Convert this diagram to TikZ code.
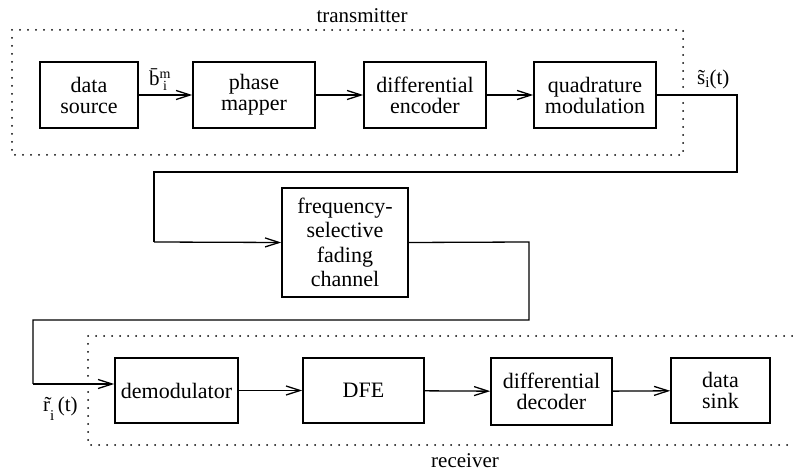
\documentclass[tikz,border=0pt]{standalone}
\usepackage{fontspec}
\setmainfont{Liberation Serif}
\usetikzlibrary{arrows.meta}
\tikzset{
  blk/.style={draw, line width=1.6pt, inner sep=0pt, align=center,
    minimum height=66pt, font=\fontsize{22}{21}\selectfont},
  conn/.style={line width=1.3pt},
  arr/.style={conn, -{Straight Barb[length=14pt,width=9pt,line width=1.3pt]}},
  dotline/.style={line width=2pt, line cap=round, dash pattern=on 0pt off 8pt},
  lbl/.style={inner sep=0pt, font=\fontsize{21}{21}\selectfont},
}
\begin{document}
\begin{tikzpicture}[x=1pt,y=-1pt]
\useasboundingbox (0,0) rectangle (793,470);
% transmitter frame
\draw[dotline] (12,30) rectangle (683,155);
\node[lbl, anchor=base] (tx) at (362,23) {transmitter};
% top row
\node[blk, minimum width=98pt] (ds) at (89,95) {data\\source};
\node[blk, minimum width=122pt] (pm) at (254,95) {phase\\mapper};
\node[blk, minimum width=122pt] (de) at (425,95) {differential\\encoder};
\node[blk, minimum width=122pt] (qm) at (595,95) {quadrature\\modulation};
\draw[arr] (ds) -- (pm);
\draw[arr] (pm) -- (de);
\draw[arr] (de) -- (qm);
\node[lbl, anchor=base west] (bl) at (149,86) {\=b\raisebox{-5pt}{\fontsize{14}{12}\selectfont\shortstack{m\\i}}};
\node[lbl, anchor=base west] (sl) at (697,85) {\~s\raisebox{-3pt}{\fontsize{15}{15}\selectfont i}(t)};
% channel
\node[blk, minimum width=126pt, minimum height=109pt, font=\fontsize{22}{24.3}\selectfont] (ch) at (345,242.5) {frequency-\\selective\\fading\\channel};
\coordinate (c1) at (737,95);
\coordinate (c2) at (737,172);
\coordinate (c3) at (154,172);
\coordinate (c4) at (154,242);
\draw[conn] (qm.east) -- (c1) -- (c2) -- (c3) -- (c4);
\draw[arr] (c4) -- (ch.west);
\coordinate (d1) at (529,242);
\coordinate (d2) at (529,320);
\coordinate (d3) at (33,320);
\coordinate (d4) at (33,384);
% receiver frame
\draw[dotline] (800,336) -- (88,336) -- (88,445) -- (800,445);
\node[lbl, anchor=base] (rx) at (465,467) {receiver};
% bottom row
\node[blk, minimum width=123pt, minimum height=65pt] (dm) at (176.5,390.5) {\raisebox{-5pt}{demodulator}};
\node[blk, minimum width=121pt, minimum height=65pt] (dfe) at (363.5,390.5) {\raisebox{-5pt}{DFE}};
\node[blk, minimum width=121pt, minimum height=67pt] (dd) at (551.5,391.5) {differential\\decoder};
\node[blk, minimum width=99pt, minimum height=65pt] (dk) at (720.5,390.5) {data\\sink};
\draw[conn] (ch.east) -- (d1) -- (d2) -- (d3) -- (d4);
\draw[arr] (d4) -- (d4 -| dm.west);
\draw[arr] (dm) -- (dfe);
\draw[arr] (dfe) -- (dd);
\draw[arr] (dd) -- (dk);
\node[lbl, anchor=base west] (rl) at (43,412) {\~r\raisebox{-9pt}{\fontsize{15}{15}\selectfont i}\,(t)};
\end{tikzpicture}
\end{document}
